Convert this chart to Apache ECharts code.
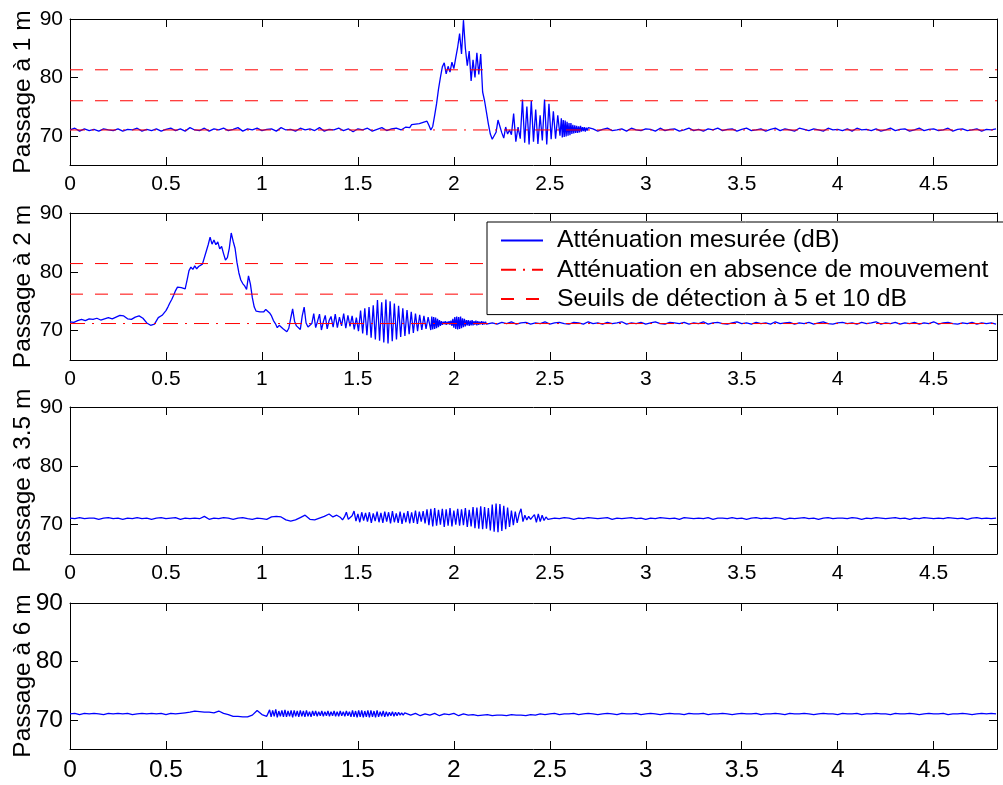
<!DOCTYPE html>
<html><head><meta charset="utf-8">
<script src="https://cdn.jsdelivr.net/npm/echarts@6.0.0/dist/echarts.min.js"></script>
<style>html,body{margin:0;padding:0;background:#fff}#c{width:1003px;height:785px}</style>
</head><body><div id="c"></div>
<script>
// ---------- axes / labels ----------
const X_MAX = 4.83, Y_MIN = 65, Y_MAX = 90;
const xTicks = [0, 0.5, 1, 1.5, 2, 2.5, 3, 3.5, 4, 4.5];
const yTicks = [70, 80, 90];
const plotNames = ['Passage à 1 m', 'Passage à 2 m', 'Passage à 3.5 m', 'Passage à 6 m'];
const legendNames = ['Atténuation mesurée (dB)', 'Atténuation en absence de mouvement', 'Seuils de détection à 5 et 10 dB'];

// reference levels (plots 1 and 2)
const baseline = [71.0, 71.2];
const thresholds1 = [76.0, 81.3];
const thresholds2 = [76.2, 81.4];

// ---------- measured attenuation, plot 1 (segments: start time, step, values) ----------
const pass1_a = [71.0,71.3,70.8,71.2,70.9,71.1,70.8,71.2,71.0,70.9,
71.2,70.8,71.1,71.0,71.3,70.8,71.1,70.9,71.2,70.8,
71.1,71.3,70.9,71.2,70.8,71.4,71.0,70.9,71.3,70.8,
71.2,71.0,71.3,70.9,71.1,71.4,70.8,71.2,71.0,71.3,
70.9,71.1,71.2,70.8,71.4,71.0,71.1,70.8,71.3,71.0,
71.2,70.9,71.4,70.8,71.1,71.0,71.3,70.9,71.2,70.7,
71.2,71.0,71.3,70.8,71.1,71.4,70.9,71.2,71.3,71.0,
71.5];
const pass1_b = [71.6,71.4,71.9,71.6,72.0,71.7,72.1,71.8,72.3,72.6,
72.5,71.8,71.0,71.6,73.5,75.5,78.0,80.0,81.8,82.5,
80.6,81.9,80.9,82.6,81.5,83.4,85.2,87.5,84.0,89.8,
85.0,82.0,84.5,79.4,83.0,80.0,84.2,80.5,84.0,77.5,
76.0,74.0,72.0,70.3,69.4,70.0,70.6,72.7,71.6,70.5,
69.6,71.5,70.3,71.0];
const pass1_c = [70.2,73.8,69.0,71.5,69.5,76.2,68.8,75.0,68.5,76.0,
69.0,74.5,68.6,73.5,69.2,76.2,68.5,75.5,69.4,74.2,
69.5,73.5,70.0];
const pass1_d = [73.0,69.7,72.7,69.8,72.6,69.9,72.4,70.0,72.2,70.1,
72.2,70.3,71.9,70.4,71.8,70.5,71.7,70.5,71.6,70.6,
71.7,70.7,71.5,70.8,71.5,70.7,71.4,70.9,71.4];
const pass1_e = [71.2,70.8,71.1,71.3,70.9,71.0,71.2,70.8,71.3,71.0,
70.9,71.2,71.1,70.8,71.3,70.9,71.1,71.2,70.8,71.0,
71.3,70.9,71.1,70.8,71.2,71.0,71.3,70.9,71.1,71.2,
70.8,71.1,71.3,70.9,71.0,71.2,70.8,71.1,71.3,70.9,
71.2,71.0,70.8,71.3,71.1,70.9,71.2,71.0,70.8,71.3,
71.0,71.1,70.9,71.2,70.8,71.3,71.0,71.1,70.9,71.2,
70.8,71.0,71.3,70.9,71.1,71.2,70.8,71.0,71.3,70.9,
71.1,71.2,70.9,71.0,71.3,70.8,71.1,71.2,70.9,71.0,
71.2,70.8,71.1,71.0,71.2];
const pass1 = [
  {t0: 0, dt: 0.025, v: pass1_a},
  {t0: 1.76, dt: 0.01, v: pass1_b},
  {t0: 2.30, dt: 0.0115, v: pass1_c},
  {t0: 2.56, dt: 0.005, v: pass1_d},
  {t0: 2.725, dt: 0.025, v: pass1_e}
];

// ---------- plot 2 ----------
const pass2_a = [71.5,71.4,71.7,71.9,71.7,72.0,71.9,72.1,71.8,72.0,
72.2,72.0,72.3,72.6,72.5,72.0,71.9,72.3,72.5,72.1,
71.3,70.9,71.1,72.2,72.6];
const pass2_b = [72.9,73.4,74.0,74.7,75.3,76.0,76.8,77.4,77.7,77.3,
77.6,77.1,78.6,80.2,80.8,80.4,81.0,80.5,80.9,80.6,
81.3,81.0,83.5,84.6,85.9,84.7,85.4,84.6,85.1,83.9,
84.3,83.1,82.0,82.4,84.0,86.6,85.2,84.0,81.6,79.8,
78.6,78.0,77.6,77.0,79.3,77.9,75.6,74.0,73.3,73.6,
73.2,73.5,73.2,73.6,73.9,73.0,72.5,71.7,71.2,70.5,
70.9,70.6,70.3,70.5,69.8,70.4,72.1,73.7,71.6,70.8,
70.6,70.2,72.5,74.0,71.3,70.6,70.4,71.2,72.9,70.5,
71.6,72.8,70.1,71.5,72.6,70.3,71.7];
const pass2_c = [72.4,70.6,72.8,70.5,72.3,70.8,72.9,70.4,72.6,70.7,
72.5,70.2,72.2,69.9,73.4,69.5,73.8,69.2,74.0,68.8,
74.3,68.5,75.2,68.3,74.8,68.0,75.3,67.8,75.0,68.2,
74.6,68.5,74.2,68.9,73.8,69.1,73.5,69.4,73.2,69.6,
72.9,69.9,72.7,70.1,72.5,70.3,72.3];
const pass2_d = [72.5,70.1,72.4,70.2,72.3,70.3,72.2,70.4,72.0,70.6,
71.8,70.8,71.6,71.0,71.5,71.1,71.6,71.0,71.5,71.1,
71.6,71.0,71.7,70.8,72.0,70.5,72.3,70.3,72.4,70.2,
72.3,70.3,72.4,70.4,72.1,70.6,72.0,70.7,71.8,70.9,
71.8,70.8,71.7,70.9,71.8,70.9,71.6,71.0,71.7,70.9,
71.6,71.0,71.5,71.1,71.6,71.0,71.5,71.1,71.5,71.1,
71.4];
const pass2_e = [71.3,71.1,71.4,71.2,71.5,71.1,71.3,71.4,71.1,71.3,
71.2,71.5,71.1,71.3,71.4,71.2,71.1,71.4,71.3,71.1,
71.5,71.2,71.3,71.1,71.4,71.2,71.3,71.5,71.1,71.3,
71.2,71.4,71.1,71.3,71.5,71.2,71.1,71.4,71.3,71.2,
71.4,71.1,71.3,71.2,71.5,71.1,71.3,71.4,71.2,71.1,
71.3,71.5,71.2,71.3,71.1,71.4,71.2,71.3,71.1,71.5,
71.2,71.3,71.4,71.1,71.3,71.2,71.4,71.1,71.3,71.5,
71.2,71.1,71.3,71.4,71.2,71.3,71.1,71.4,71.2,71.3,
71.5,71.1,71.3,71.2,71.4,71.1,71.3,71.2,71.4,71.1,
71.3,71.2,71.5,71.1,71.3,71.4,71.2,71.1,71.3,71.2,
71.4,71.1,71.3,71.2,71.3,71.1];
const pass2 = [
  {t0: 0, dt: 0.02, v: pass2_a},
  {t0: 0.49, dt: 0.01, v: pass2_b},
  {t0: 1.36, dt: 0.011, v: pass2_c},
  {t0: 1.875, dt: 0.005, v: pass2_d},
  {t0: 2.2, dt: 0.025, v: pass2_e}
];

// ---------- plot 3 ----------
const pass3_a = [71.1,71.0,71.2,71.0,71.1,71.1,70.9,71.1,71.2,71.0,
71.1,70.9,71.1,71.0,71.2,71.0,71.1,70.9,71.1,71.2,
71.0,71.1,71.2,70.9,71.1,71.0,71.1,71.0,71.4,70.9,
71.1,71.0,71.2,71.1,70.9,71.1,71.2,71.0,70.9,71.1,
71.0,70.9,71.3,71.4,71.3,70.8,70.6,70.8,71.2,71.6,
70.9,70.8,71.1,71.4,71.8];
const pass3_b = [71.7,71.3,71.0,71.6,71.9,71.2,70.8,71.3,72.1,70.9,
70.6,71.5,72.3,70.6,71.8,70.4,72.1,70.7,72.0,70.5,
72.1,70.3,71.9,70.6,72.2,70.4,72.0,70.3,72.2,70.5,
72.1,70.2,72.3,70.4,71.9,70.3,72.2,70.1,72.0,70.4,
72.3,70.2,72.1,70.3,72.4,70.1,72.2,70.5,72.3,70.2,
72.6,69.9,72.7,69.7,72.8,69.8,72.5,70.0,72.7,69.6,
72.6,69.8,72.8,69.7,72.4,70.0,72.7,69.8,72.6,69.9,
72.8,69.6,72.5,69.7,73.0,69.4,72.9,69.3,73.1,69.2,
73.0,69.3,72.8,69.0,73.4,68.8,73.6,68.7,73.5,68.9,
73.2,69.2,72.9,69.6,72.4,69.9,72.2,70.3,71.8,72.7,
70.5,71.6,70.8,71.4,70.9,71.3,71.7,70.4,71.8,70.5,
71.6,70.7,71.3,70.9,71.2];
const pass3_c = [71.1,71.0,71.2,71.1,70.9,71.1,71.0,71.2,71.1,71.0,
71.1,71.2,70.9,71.1,71.0,71.1,71.2,71.0,71.1,70.9,
71.1,71.0,71.2,71.1,71.0,71.1,70.9,71.2,71.1,71.0,
71.1,71.0,71.2,70.9,71.1,71.1,71.0,71.2,71.0,71.1,
70.9,71.1,71.2,71.0,71.1,71.0,71.2,71.1,70.9,71.1,
71.0,71.1,71.2,71.0,71.1,70.9,71.1,71.2,71.0,71.1,
71.1,71.0,71.2,71.1,70.9,71.1,71.0,71.2,71.1,71.0,
71.1,71.2,71.0,71.1,70.9,71.1,71.0,71.2,71.1,71.0,
71.1,71.0,71.2,71.1,71.0,71.1,70.9,71.1,71.2,71.0,
71.1,71.0,71.1];
const pass3 = [
  {t0: 0, dt: 0.025, v: pass3_a},
  {t0: 1.36, dt: 0.01, v: pass3_b},
  {t0: 2.525, dt: 0.025, v: pass3_c}
];

// ---------- plot 4 ----------
const pass4_a = [71.0,71.1,70.9,71.1,71.0,71.1,71.0,70.9,71.1,71.0,
71.1,71.0,71.1,70.9,71.0,71.1,71.0,71.1,71.0,71.1,
70.9,71.1,71.0,71.1,71.2,71.3,71.5,71.4,71.3,71.3,
71.2,71.5,71.1,70.9,70.6,70.6,70.5,70.5,70.8,71.6,
70.9,70.6];
const pass4_b = [71.7,70.5,71.6,70.6,71.8,70.4,71.5,70.6,71.6,70.5,
71.7,70.5,71.5,70.6,71.6,70.4,71.6,70.6,71.5,70.5,
71.6,70.6,71.5,70.5,71.6,70.6,71.4,70.5,71.5,70.7,
71.5,70.6,71.4,70.7,71.5,70.6,71.4,70.7,71.5,70.6,
71.4,70.7,71.5,70.6,71.4,70.6,71.5,70.7,71.4,70.6,
71.5,70.7,71.4,70.5,71.6,70.5,71.5,70.4,71.6,70.5,
71.6,70.4,71.5,70.5,71.6,70.4,71.6,70.5,71.5,70.4,
71.6,70.5,71.4,70.6,71.5,70.5,71.4,70.6,71.3,70.7,
71.4,70.6,71.3,70.7,71.3,70.8,71.2,70.8,71.2,70.9];
const pass4_c = [70.8,71.1,70.7,71.0,70.8,71.1,70.7,71.0,70.9,71.1,
70.7,71.0,70.8,70.9,70.7,70.8,70.9,70.7,70.8,70.8,
70.7,70.9,70.8,70.8,70.7,70.9,70.8,71.0,70.9,71.0,
71.1,70.9,71.0,71.0,71.1,70.9,71.0,71.1,71.0,70.9,
71.0,71.1,71.0,70.9,71.1,71.0,71.0,71.1,70.9,71.0,
71.1,71.0,70.9,71.0,71.1,71.0,71.0,70.9,71.1,71.0,
71.0,71.1,70.9,71.0,71.0,71.1,71.0,70.9,71.0,71.1,
71.0,71.0,71.1,70.9,71.0,71.0,71.1,71.0,70.9,71.1,
71.0,71.0,71.1,71.0,70.9,71.0,71.1,71.0,71.0,70.9,
71.1,71.0,71.0,71.1,70.9,71.0,71.0,71.1,71.0,71.0,
70.9,71.1,71.0,71.0,71.1,71.0,70.9,71.0,71.1,71.0,
71.0,71.1,70.9,71.0,71.0,71.1,71.0,70.9,71.0,71.1,
71.0,71.1,71.0];
const pass4 = [
  {t0: 0, dt: 0.025, v: pass4_a},
  {t0: 1.04, dt: 0.008, v: pass4_b},
  {t0: 1.775, dt: 0.025, v: pass4_c}
];

// ---------- build ----------
function expand(segs) {
  const out = [];
  segs.forEach(s => s.v.forEach((v, i) => out.push([+(s.t0 + i * s.dt).toFixed(4), v])));
  return out;
}
const measured = [pass1, pass2, pass3, pass4].map(expand);

const FONT = "'Liberation Sans', Arial, Helvetica, sans-serif";
const layout = [
  {top: 19, height: 146, tickFont: 21},
  {top: 213, height: 147, tickFont: 21},
  {top: 407, height: 147, tickFont: 21},
  {top: 603, height: 146, tickFont: 24.5}
];
const BLACK = '#000';
const BLUE = '#0000ff';
const RED = '#ff0000';

const grid = [], xAxis = [], yAxis = [], series = [];
layout.forEach((g, i) => {
  grid.push({left: 70, right: 6, top: g.top, height: g.height, containLabel: false});
  const axLine = {show: true, onZero: false, lineStyle: {color: BLACK, width: 1}};
  xAxis.push({
    type: 'value', gridIndex: i, position: 'bottom', min: 0, max: X_MAX,
    axisLine: axLine,
    axisTick: {show: true, inside: true, length: 8, customValues: xTicks, lineStyle: {color: BLACK}},
    axisLabel: {show: true, customValues: xTicks, color: BLACK, fontFamily: FONT, fontSize: g.tickFont, margin: 9},
    splitLine: {show: false}
  });
  xAxis.push({
    type: 'value', gridIndex: i, position: 'top', min: 0, max: X_MAX,
    axisLine: axLine,
    axisTick: {show: true, inside: true, length: 8, customValues: xTicks, lineStyle: {color: BLACK}},
    axisLabel: {show: false},
    splitLine: {show: false}
  });
  yAxis.push({
    type: 'value', gridIndex: i, position: 'left', min: Y_MIN, max: Y_MAX,
    name: plotNames[i], nameLocation: 'middle', nameRotate: 90, nameGap: 34,
    nameMoveOverlap: false,
    nameTextStyle: {color: BLACK, fontFamily: FONT, fontSize: 24.5},
    axisLine: axLine,
    axisTick: {show: true, inside: true, length: 8, customValues: yTicks, lineStyle: {color: BLACK}},
    axisLabel: {show: true, customValues: yTicks, color: BLACK, fontFamily: FONT, fontSize: g.tickFont, margin: 7},
    splitLine: {show: false}
  });
  yAxis.push({
    type: 'value', gridIndex: i, position: 'right', min: Y_MIN, max: Y_MAX,
    axisLine: axLine,
    axisTick: {show: true, inside: true, length: 8, customValues: yTicks, lineStyle: {color: BLACK}},
    axisLabel: {show: false},
    splitLine: {show: false}
  });
  series.push({
    type: 'line', name: legendNames[0], xAxisIndex: 2 * i, yAxisIndex: 2 * i,
    data: measured[i], symbol: 'none', showSymbol: false, z: 2,
    lineStyle: {color: BLUE, width: 1.3}, itemStyle: {color: BLUE}
  });
});

const refSets = [
  {base: baseline[0], thr: thresholds1},
  {base: baseline[1], thr: thresholds2}
];
refSets.forEach((r, i) => {
  series.push({
    type: 'line', name: legendNames[1], xAxisIndex: 2 * i, yAxisIndex: 2 * i,
    data: [[0, r.base], [X_MAX, r.base]], symbol: 'none', z: 3,
    lineStyle: {color: RED, width: 1, type: [15, 7, 2, 7]}, itemStyle: {color: RED}
  });
  r.thr.forEach(v => {
    series.push({
      type: 'line', name: legendNames[2], xAxisIndex: 2 * i, yAxisIndex: 2 * i,
      data: [[0, v], [X_MAX, v]], symbol: 'none', z: 3,
      lineStyle: {color: RED, width: 1, type: [13, 12]}, itemStyle: {color: RED}
    });
  });
});

const chart = echarts.init(document.getElementById('c'), null, {renderer: 'canvas'});
chart.setOption({
  animation: false,
  backgroundColor: '#fff',
  grid, xAxis, yAxis, series,
  legend: {
    data: legendNames,
    orient: 'vertical', left: 487, top: 222,
    itemWidth: 42, itemHeight: 14, itemGap: 4.3,
    padding: [6, 19, 3, 13],
    backgroundColor: '#fff', borderColor: BLACK, borderWidth: 1, borderRadius: 0,
    selectedMode: false, z: 10,
    itemStyle: {color: 'transparent', borderWidth: 0, opacity: 0},
    textStyle: {color: BLACK, fontFamily: FONT, fontSize: 24.8, lineHeight: 24, padding: [0, 0, 0, 9]}
  }
});
</script></body></html>
